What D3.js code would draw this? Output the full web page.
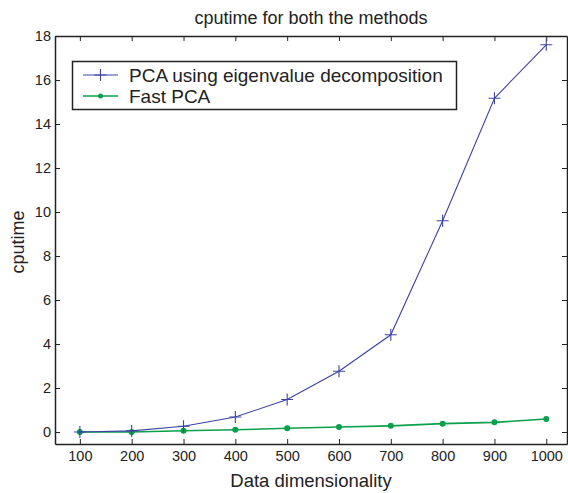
<!DOCTYPE html>
<html>
<head>
<meta charset="utf-8">
<script src="https://cdn.jsdelivr.net/npm/d3@7"></script>
<style>
  body { margin: 0; background: #fff; }
  text { font-family: "Liberation Sans", Arial, sans-serif; fill: #222; }
</style>
</head>
<body>
<svg></svg>
<script>
// cputime chart
var dims = [100, 200, 300, 400, 500, 600, 700, 800, 900, 1000];
var pcaEigen = [0.0, 0.05, 0.26, 0.68, 1.48, 2.76, 4.42, 9.6, 15.17, 17.6];
var fastPca = [0.0, 0.0, 0.06, 0.1, 0.17, 0.23, 0.28, 0.38, 0.44, 0.59];
var yTicks = [0, 2, 4, 6, 8, 10, 12, 14, 16, 18];
var seriesNames = ["PCA using eigenvalue decomposition", "Fast PCA"];

var svgWidth = 568, svgHeight = 493;
var plotLeft = 55, plotRight = 567, plotTop = 36, plotBottom = 444;
var blue = "#3d42a3", green = "#0aa04c";

var svg = d3.select('svg')
    .attr("width", svgWidth)
    .attr("height", svgHeight);

var xScale = d3.scaleLinear()
    .domain([52, 1040])
    .range([plotLeft, plotRight]);

var yScale = d3.scaleLinear()
    .domain([-0.545, 18])
    .range([plotBottom, plotTop]);

// box with inward ticks on all sides
var ax = svg.append("g");
ax.append("g").attr("transform", "translate(0," + plotBottom + ")")
    .call(d3.axisBottom(xScale).tickValues(dims).tickFormat(d3.format("d"))
        .tickSizeInner(-5).tickSizeOuter(0).tickPadding(7));
ax.append("g").attr("transform", "translate(0," + plotTop + ")")
    .call(d3.axisTop(xScale).tickValues(dims).tickSizeInner(-5).tickSizeOuter(0).tickFormat(""));
ax.append("g").attr("transform", "translate(" + plotLeft + ",0)")
    .call(d3.axisLeft(yScale).tickValues(yTicks).tickSizeInner(-5).tickSizeOuter(0).tickPadding(4));
ax.append("g").attr("transform", "translate(" + plotRight + ",0)")
    .call(d3.axisRight(yScale).tickValues(yTicks).tickSizeInner(-5).tickSizeOuter(0).tickFormat(""));
ax.selectAll(".domain").attr("stroke", "#222").attr("stroke-width", 1.5);
ax.selectAll(".tick line").attr("stroke", "#222");
ax.selectAll(".tick text").style("font-size", "14.5px").attr("fill", "#222");

var line = d3.line()
    .x(function (d) { return xScale(d[0]); })
    .y(function (d) { return yScale(d[1]); });

// Fast PCA
var fastData = d3.zip(dims, fastPca);
svg.append("path").datum(fastData)
    .attr("d", line).attr("fill", "none")
    .attr("stroke", green).attr("stroke-width", 1.6);
svg.selectAll(".dot").data(fastData).enter().append("circle")
    .attr("cx", function (d) { return xScale(d[0]); })
    .attr("cy", function (d) { return yScale(d[1]); })
    .attr("r", 3).attr("fill", green);

// PCA eigen
var eigData = d3.zip(dims, pcaEigen);
svg.append("path").datum(eigData)
    .attr("d", line).attr("fill", "none")
    .attr("stroke", blue).attr("stroke-width", 1.1);
svg.selectAll(".plus").data(eigData).enter().append("path")
    .attr("d", function (d) {
        var x = xScale(d[0]), y = yScale(d[1]);
        return "M" + (x - 6) + "," + y + "H" + (x + 6) + "M" + x + "," + (y - 6) + "V" + (y + 6);
    })
    .attr("stroke", blue).attr("stroke-width", 1.1);

// legend
var lg = svg.append("g");
lg.append("rect").attr("x", 72.5).attr("y", 61.5).attr("width", 384).attr("height", 48)
    .attr("fill", "#fff").attr("stroke", "#222").attr("stroke-width", 1.5);
lg.append("line").attr("x1", 83).attr("x2", 118).attr("y1", 75).attr("y2", 75)
    .attr("stroke", blue).attr("stroke-width", 1.1);
lg.append("path").attr("d", "M94.5,75H106.5M100.5,69V81").attr("stroke", blue).attr("stroke-width", 1.1);
lg.append("line").attr("x1", 83).attr("x2", 118).attr("y1", 96).attr("y2", 96)
    .attr("stroke", green).attr("stroke-width", 1.6);
lg.append("circle").attr("cx", 100.5).attr("cy", 96).attr("r", 2.5).attr("fill", green);
lg.selectAll(".lt").data(seriesNames).enter().append("text")
    .attr("x", 129).attr("y", function (d, i) { return 81.5 + i * 21; })
    .style("font-size", "19px").text(function (d) { return d; });

// titles
svg.append("text").attr("x", 311).attr("y", 24).attr("text-anchor", "middle")
    .style("font-size", "18px").text("cputime for both the methods");
svg.append("text").attr("x", 311).attr("y", 487).attr("text-anchor", "middle")
    .style("font-size", "18.5px").text("Data dimensionality");
svg.append("text").attr("transform", "translate(24,242) rotate(-90)").attr("text-anchor", "middle")
    .style("font-size", "18px").text("cputime");
</script>
</body>
</html>
